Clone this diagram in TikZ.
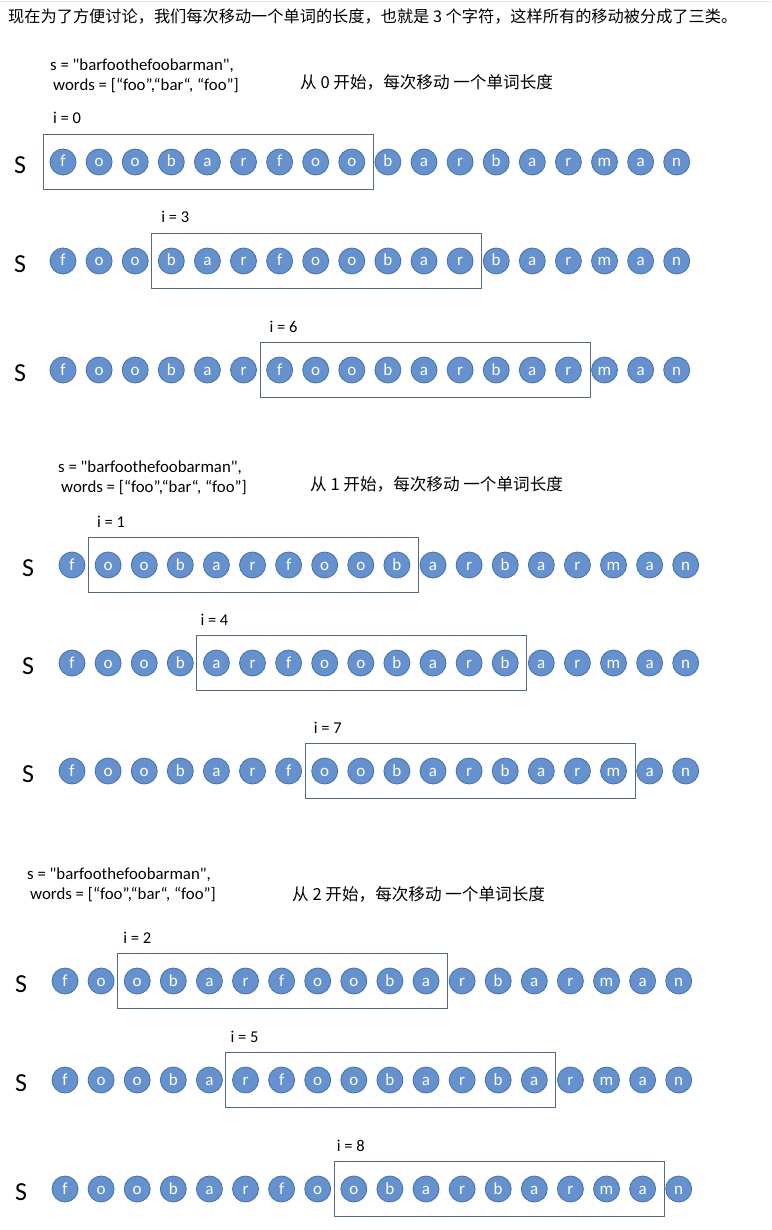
\documentclass[tikz,border=0pt]{standalone}
\usepackage{fontspec}
\setmainfont{Carlito}[Ligatures=TeXOff]
\newfontfamily\cjk{Noto Sans CJK SC}
\usepackage{tikz}
\usetikzlibrary{positioning,calc}
\definecolor{ballfill}{RGB}{101,146,207}
\definecolor{ballline}{RGB}{72,112,166}
\definecolor{boxline}{RGB}{84,106,128}
\newcommand{\wordsline}{s = "barfoothefoobarman",\\\hspace*{3pt}words = [“foo”,“bar“, “foo”]}
\newcommand{\stepnote}[1]{\cjk 从 #1 开始，每次移动 一个单词长度}

\begin{document}
\begin{tikzpicture}[x=1pt, y=-1pt,
    letter/.style={circle, fill=ballfill, draw=ballline, line width=0.8pt, minimum size=26pt, inner sep=0pt,
        text=white, font=\fontsize{17}{17}\selectfont, text height=10pt, text depth=0pt},
    window/.style={draw=boxline, line width=1pt, minimum width=330pt, minimum height=55pt},
    slabel/.style={font=\fontsize{26}{26}\selectfont, inner sep=0pt},
    ilabel/.style={font=\fontsize{16.5}{16.5}\selectfont, inner sep=0pt, anchor=base west},
    codetext/.style={font=\fontsize{16.8}{20}\selectfont, align=left, inner sep=0pt, anchor=north west},
    note/.style={font=\fontsize{16.6}{16.6}\selectfont, inner sep=0pt, anchor=west}]
    % Canvas
    \fill[white] (0,0) rectangle (771,1230);
    \useasboundingbox (0,0) rectangle (771,1230);
    \draw[gray!20] (0,1) -- (771,1);

    % Heading
    \node[font=\fontsize{16.2}{16.2}\selectfont, inner sep=0pt, anchor=west] (title) at (8,17)
        {\cjk 现在为了方便讨论，我们每次移动一个单词的长度，也就是 3 个字符，这样所有的移动被分成了三类。};

    % Section headers
    \node[codetext] (code1) at (50,59) {\wordsline};
    \node[note] (note1) at (300,82) {\stepnote{0}};
    \node[codetext] (code2) at (58,461) {\wordsline};
    \node[note] (note2) at (310,484) {\stepnote{1}};
    \node[codetext] (code3) at (27,868) {\wordsline};
    \node[note] (note3) at (292,894) {\stepnote{2}};

    % Rows: row / first x / y / S x / start i / label shift
    \foreach \row/\x/\y/\sx/\k/\ix in {1/63/162/20/0/10, 2/63/261/20/3/10, 3/63/370/20/6/10,
                                       4/72/565/28/1/9, 5/72/663/28/4/4, 6/72/771/28/7/9,
                                       7/65/981/21/2/6, 8/65/1080/21/5/5, 9/65/1189/21/8/3} {
        \node[slabel] (s\row) at (\sx,\y+3) {S};
        \foreach \ch [count=\j from 0] in {f,o,o,b,a,r,f,o,o,b,a,r,b,a,r,m,a,n}
            \node[letter] (c\row-\j) at (\x+\j*36.1,\y) {\ch};
        \pgfmathtruncatemacro{\kend}{\k+8}
        \node[window] (w\row) at ($(c\row-\k)!0.5!(c\row-\kend)+(1,0)$) {};
        \node[ilabel] (i\row) at ($(w\row.north west)+(\ix,-10)$) {i = \k};
    }
\end{tikzpicture}
\end{document}
